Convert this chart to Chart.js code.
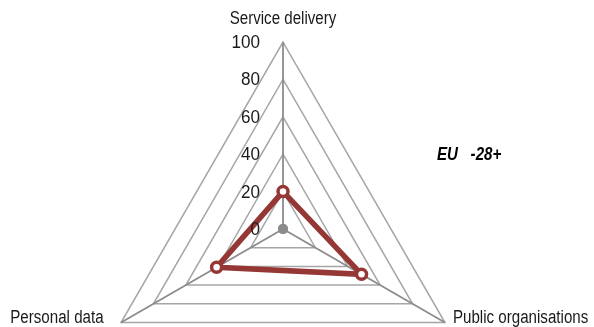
<!DOCTYPE html>
<html>
<head>
<meta charset="utf-8">
<script src="https://cdn.jsdelivr.net/npm/chart.js@4"></script>
<style>
  html, body { margin: 0; padding: 0; background: #fff; overflow: hidden; }
  #wrap { position: relative; width: 594px; height: 420px; }
</style>
</head>
<body>
<div id="wrap"><canvas id="myChart-radar"></canvas></div>
<script>
const categories = ['Service delivery', 'Public organisations', 'Personal data'];
const seriesName = 'EU -28+';
const seriesValues = [20, 48.5, 41];
const originValues = [0, 0, 0];
const tickValues = [0, 20, 40, 60, 80, 100];

const FONT = '"Liberation Sans", Arial, sans-serif';

// texto "estreito": fonte normal comprimida na horizontal
function narrowText(ctx, text, x, y, align, sx) {
    ctx.save();
    ctx.translate(x, y);
    ctx.scale(sx, 1);
    ctx.textAlign = align;
    ctx.fillText(text, 0, 0);
    ctx.restore();
}

const textPlugin = {
    id: 'textPlugin',
    afterDraw(chart) {
        const s = chart.scales.r;
        const ctx = chart.ctx;
        ctx.save();
        ctx.fillStyle = '#1a1a1a';
        ctx.font = '18px ' + FONT;
        ctx.textBaseline = 'middle';

        tickValues.forEach(v => {
            const p = s.getPointPositionForValue(0, v);
            narrowText(ctx, String(v), p.x - 23, p.y + 1, 'right', 0.95);
        });

        const offsets = [
            { dx: 0, dy: -23, align: 'center' },
            { dx: 8, dy: -4.5, align: 'left' },
            { dx: -17.5, dy: -4, align: 'right' }
        ];
        categories.forEach((c, i) => {
            const p = s.getPointPosition(i, s.drawingArea);
            narrowText(ctx, c, p.x + offsets[i].dx, p.y + offsets[i].dy, offsets[i].align, 0.84);
        });

        // legenda sem marcador, com espaço largo como no original
        ctx.font = 'italic bold 18px ' + FONT;
        ctx.fillStyle = '#000';
        narrowText(ctx, seriesName.replace(' ', '   '), 437, 155, 'left', 0.84);
        ctx.restore();
    }
};

const ctx = document.getElementById('myChart-radar');
new Chart(ctx, {
    type: 'radar',
    data: {
        labels: categories,
        datasets: [{
            label: seriesName,
            data: seriesValues,
            borderColor: '#953735',
            backgroundColor: 'rgba(0,0,0,0)',
            borderWidth: 5.5,
            pointRadius: 5,
            pointBorderWidth: 3.5,
            pointBackgroundColor: '#fff',
            pointBorderColor: '#953735',
            fill: false
        }, {
            label: 'origin',
            data: originValues,
            showLine: false,
            pointRadius: 5,
            pointBorderWidth: 0,
            pointBackgroundColor: '#8c8c8c',
            pointBorderColor: '#8c8c8c'
        }]
    },
    options: {
        responsive: true,
        maintainAspectRatio: false,
        animation: false,
        layout: { padding: { top: 42, bottom: 4, left: 0, right: 28 } },
        plugins: {
            legend: { display: false },
            tooltip: { enabled: false }
        },
        scales: {
            r: {
                min: 0,
                max: 100,
                ticks: { stepSize: 20, display: false },
                grid: { color: '#a6a6a6', lineWidth: 1.5 },
                angleLines: { color: '#8c8c8c', lineWidth: 1.8 },
                pointLabels: { display: false }
            }
        }
    },
    plugins: [textPlugin]
});
</script>
</body>
</html>
